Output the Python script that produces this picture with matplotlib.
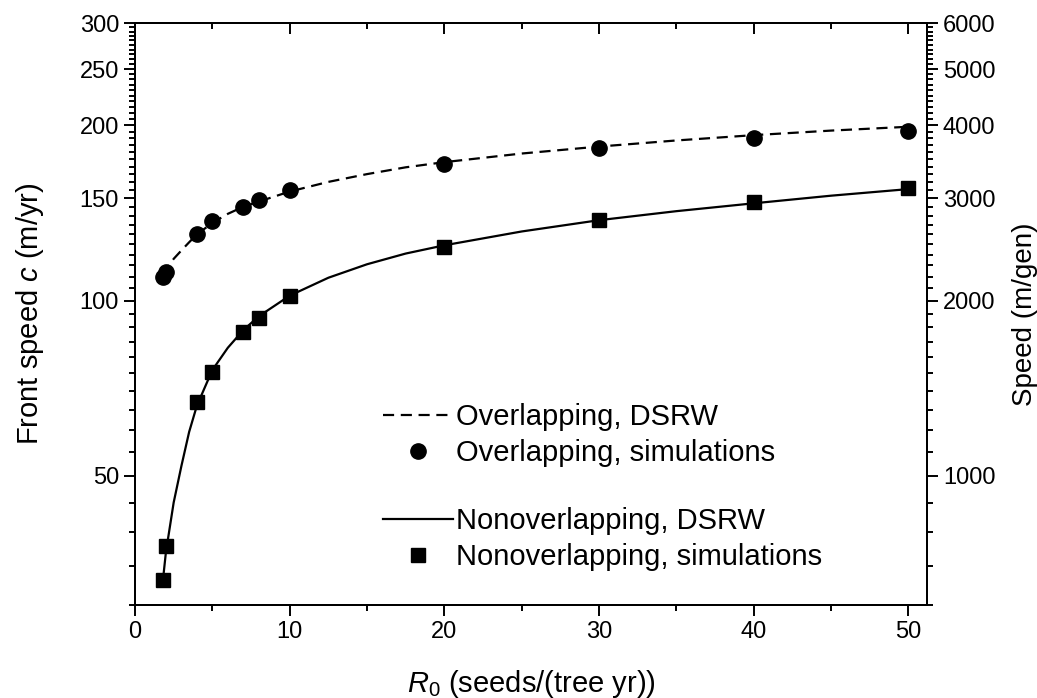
import matplotlib
matplotlib.use("Agg")
import matplotlib.pyplot as plt
from matplotlib.lines import Line2D
from matplotlib.ticker import FixedLocator, MultipleLocator, NullFormatter, StrMethodFormatter

plt.rcParams["font.family"] = ["Liberation Sans", "DejaVu Sans"]
plt.rcParams["mathtext.fontset"] = "custom"
plt.rcParams["mathtext.rm"] = "Liberation Sans"
plt.rcParams["mathtext.it"] = "Liberation Sans:italic"

# simulation points
r0_sim = [1.8, 2, 4, 5, 7, 8, 10, 20, 30, 40, 50]
overlap_sim = [110, 112, 130, 137, 145, 149, 155, 172, 183, 190, 196]
nonoverlap_sim = [33.1, 37.9, 67, 75.5, 88.5, 93.5, 102, 123.5, 137.5, 147.5, 156]

# DSRW curves
r0_curve = [1.8, 2, 2.5, 3, 3.5, 4, 5, 6, 7, 8, 10, 12.5, 15, 17.5, 20, 25, 30, 35, 40, 45, 50]
overlap_curve = [111, 113, 118, 122, 126, 130, 136, 141, 145, 148, 154, 160, 165, 169.5,
                 173, 179, 184, 188.5, 192.5, 196, 199]
nonoverlap_curve = [33, 37, 45, 52, 59.5, 66, 76, 83, 89, 94, 102, 109.5, 115.5, 120.5,
                    124.5, 131.5, 137.5, 142.5, 147, 151.5, 155.5]

left_ticks = [50, 100, 150, 200, 250, 300]
right_ticks = [1000, 2000, 3000, 4000, 5000, 6000]
x_ticks = [0, 10, 20, 30, 40, 50]

fig = plt.figure(figsize=(10.37, 6.98), dpi=100)
ax = fig.add_axes([135 / 1037, 1 - 605 / 698, (927 - 135) / 1037, (605 - 23) / 698])

ax.plot(r0_curve, overlap_curve, color="black", lw=1.6, dashes=(5, 3))
ax.plot(r0_sim, overlap_sim, "o", color="black", ms=11)
ax.plot(r0_curve, nonoverlap_curve, color="black", lw=1.6)
ax.plot(r0_sim, nonoverlap_sim, "s", color="black", ms=9.5)

ax.set_yscale("log")
ax.set_xlim(0, 51.2)
ax.set_ylim(30, 300)

ax.yaxis.set_major_locator(FixedLocator(left_ticks))
ax.yaxis.set_minor_locator(MultipleLocator(5))
ax.yaxis.set_major_formatter(StrMethodFormatter("{x:.0f}"))
ax.yaxis.set_minor_formatter(NullFormatter())
ax.xaxis.set_major_locator(FixedLocator(x_ticks))
ax.xaxis.set_minor_locator(MultipleLocator(5))

ax.tick_params(which="both", direction="out", width=1.4, labelsize=17, right=False, top=False)
ax.tick_params(which="major", length=8)
ax.tick_params(which="minor", length=4.5)
for s in ax.spines.values():
    s.set_linewidth(1.4)

# right axis in m/gen
ax2 = ax.twinx()
ax2.set_yscale("log")
ax2.set_ylim(600, 6000)
ax2.yaxis.set_major_locator(FixedLocator(right_ticks))
ax2.yaxis.set_minor_locator(MultipleLocator(100))
ax2.yaxis.set_major_formatter(StrMethodFormatter("{x:.0f}"))
ax2.yaxis.set_minor_formatter(NullFormatter())
ax2.tick_params(which="both", direction="out", width=1.4, labelsize=17)
ax2.tick_params(which="major", length=8)
ax2.tick_params(which="minor", length=4.5)
for s in ax2.spines.values():
    s.set_linewidth(1.4)

# top ticks pointing inwards
top = ax.secondary_xaxis("top")
top.xaxis.set_major_locator(FixedLocator(x_ticks))
top.xaxis.set_minor_locator(MultipleLocator(5))
top.tick_params(which="both", direction="in", width=1.4, labeltop=False)
top.tick_params(which="major", length=8)
top.tick_params(which="minor", length=4.5)
top.spines["top"].set_linewidth(1.4)

ax.set_xlabel(r"$\mathit{R_0}$ (seeds/(tree yr))", fontsize=21, labelpad=18)
ax.set_ylabel(r"Front speed $\mathit{c}$ (m/yr)", fontsize=21, labelpad=24)
ax2.set_ylabel("Speed (m/gen)", fontsize=20, labelpad=12)

handles = [
    Line2D([], [], color="black", lw=1.6, dashes=(5, 3)),
    Line2D([], [], color="black", marker="o", ms=11, ls="none"),
    Line2D([], [], ls="none"),
    Line2D([], [], color="black", lw=1.6),
    Line2D([], [], color="black", marker="s", ms=9.5, ls="none"),
]
labels = ["Overlapping, DSRW", "Overlapping, simulations", " ",
          "Nonoverlapping, DSRW", "Nonoverlapping, simulations"]
leg = ax.legend(handles, labels, loc="upper left", bbox_to_anchor=(383 / 1037, 1 - 403 / 698),
                bbox_transform=fig.transFigure, frameon=False, fontsize=21,
                handlelength=2.4, handletextpad=0.1, borderpad=0, borderaxespad=0,
                labelspacing=0.27)
leg.get_texts()[2].set_fontsize(15)

fig.savefig("out.png", dpi=100)
